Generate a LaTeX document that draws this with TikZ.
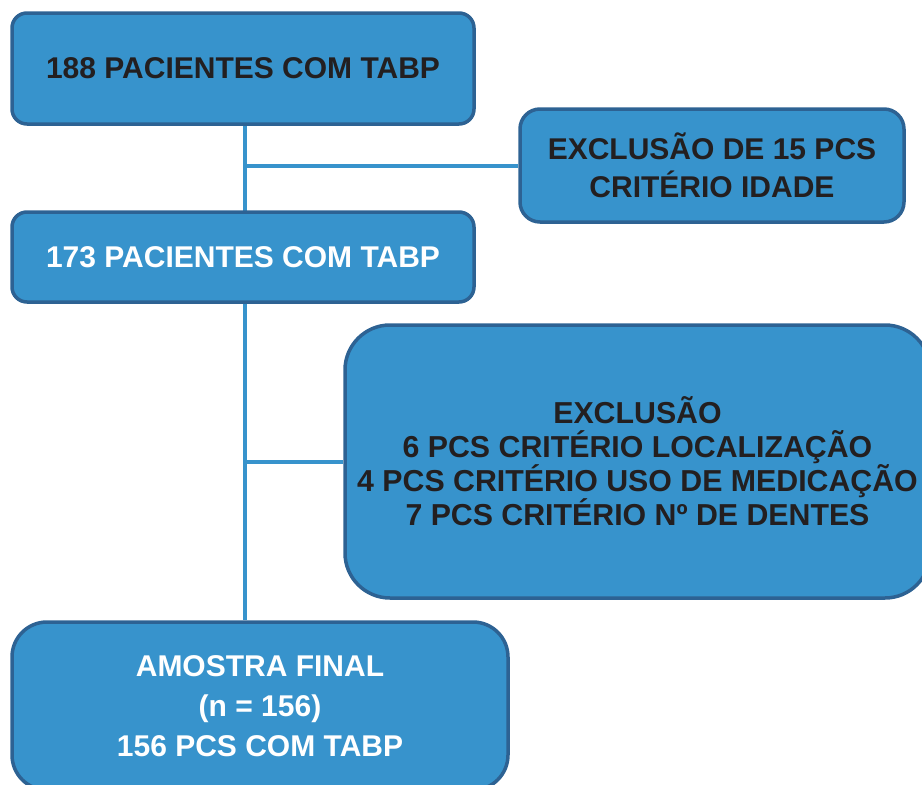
\documentclass[tikz,border=0pt]{standalone}
\usepackage{fontspec}
\setmainfont{Liberation Sans}
\usetikzlibrary{positioning,backgrounds}
\definecolor{boxfill}{HTML}{3793CC}
\definecolor{boxline}{HTML}{2D6293}
\definecolor{boxtext}{HTML}{231F20}
\tikzset{
    flowbox/.style={draw=boxline, line width=3.5pt, fill=boxfill, align=center,
        inner sep=0pt, text=boxtext,
        font=\fontsize{30}{38}\selectfont\bfseries},
    light/.style={text=white},
    link/.style={draw=boxfill, line width=4pt}
}

\begin{document}
\begin{tikzpicture}[x=1pt,y=-1pt]
    \useasboundingbox (0,0) rectangle (922,785);
    \clip (0,0) rectangle (922,785);
    % boxes
    \node[flowbox, rounded corners=15pt, minimum width=462pt, minimum height=111pt]
        (start) at (243,68.5) {188 PACIENTES COM TABP};
    \node[flowbox, rounded corners=20pt, minimum width=384pt, minimum height=113pt]
        (agecut) at (712,165.5) {EXCLUSÃO DE 15 PCS\\CRITÉRIO IDADE};
    \node[flowbox, light, rounded corners=15pt, minimum width=462pt, minimum height=90pt]
        (second) at (243,257) {173 PACIENTES COM TABP};
    \node[flowbox, rounded corners=45pt, minimum width=585pt, minimum height=273pt,
        font=\fontsize{30.3}{34}\selectfont\bfseries]
        (othercut) at (637.5,461.5) {EXCLUSÃO\\6 PCS CRITÉRIO LOCALIZAÇÃO\\4 PCS CRITÉRIO USO DE MEDICAÇÃO\\7 PCS CRITÉRIO Nº DE DENTES};
    \node[flowbox, light, rounded corners=35pt, minimum width=496pt, minimum height=168pt,
        font=\fontsize{30}{40}\selectfont\bfseries]
        (final) at (260,706) {AMOSTRA FINAL\\(n = 156)\\156 PCS COM TABP};
    % connectors
    \coordinate (spine) at (245,0);
    \begin{pgfonlayer}{background}
        \draw[link] (start.south -| spine) -- (final.north -| spine);
        \draw[link] (agecut.west -| spine) -- (agecut.west);
        \draw[link] (othercut.west -| spine) -- (othercut.west);
    \end{pgfonlayer}
\end{tikzpicture}
\end{document}
